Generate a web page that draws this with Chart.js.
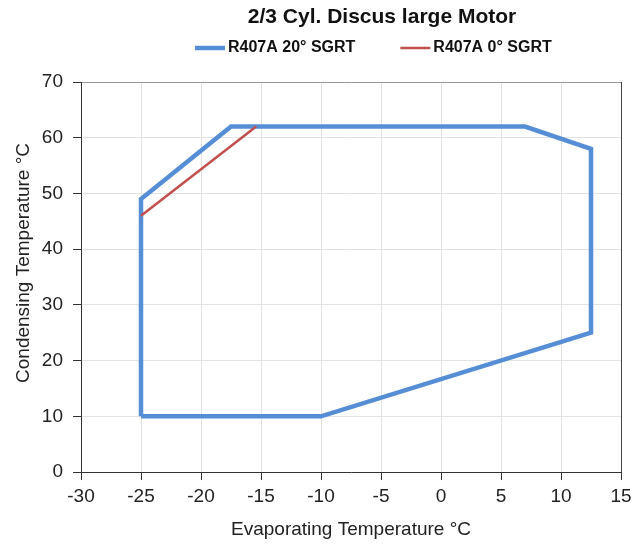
<!DOCTYPE html>
<html>
<head>
<meta charset="utf-8">
<script src="https://cdn.jsdelivr.net/npm/chart.js@4"></script>
<style>
  body { margin: 0; background: #fff; }
</style>
</head>
<body>
<canvas id="c" width="643" height="544"></canvas>
<script>
// envelope outline points (evaporating temp, condensing temp)
const blueX = [-25, -10, 12.5, 12.5, 7, -17.5, -25, -25];
const blueY = [10, 10, 25, 58, 62, 62, 49, 10];
// 0 deg SGRT only differs on the upper left edge
const redX = [-25, -15.4];
const redY = [46, 62];

const xTicks = [-30, -25, -20, -15, -10, -5, 0, 5, 10, 15];
const yTicks = [0, 10, 20, 30, 40, 50, 60, 70];

const chartTitle = '2/3 Cyl. Discus large Motor';
const seriesNames = ['R407A 20° SGRT', 'R407A 0° SGRT'];
const yAxisTitle = 'Condensing Temperature °C';

const toPts = (xs, ys) => xs.map((x, i) => ({ x: x, y: ys[i] }));

const FONT = "'Liberation Sans', Arial, sans-serif";
Chart.defaults.font.family = FONT;
Chart.defaults.color = '#222';

// title, legend and y title drawn by hand so the spacing matches the excel look
const headerPlugin = {
  id: 'header',
  afterDraw(chart) {
    const ctx = chart.ctx;
    ctx.save();
    ctx.textBaseline = 'middle';
    ctx.fillStyle = '#111';
    ctx.font = 'bold 21px ' + FONT;
    ctx.textAlign = 'center';
    ctx.fillText(chartTitle, 382, 17);

    ctx.font = 'bold 16px ' + FONT;
    ctx.textAlign = 'left';
    const lineW = 30, gap = 3, between = 45;
    let x = 195;
    chart.data.datasets.forEach((ds) => {
      ctx.strokeStyle = ds.borderColor;
      ctx.lineWidth = ds.borderWidth;
      ctx.beginPath();
      ctx.moveTo(x, 48);
      ctx.lineTo(x + lineW, 48);
      ctx.stroke();
      ctx.fillText(ds.label, x + lineW + gap, 48);
      x += lineW + gap + ctx.measureText(ds.label).width + between;
    });

    // rotated y axis title
    ctx.fillStyle = '#222';
    ctx.font = '19px ' + FONT;
    ctx.textAlign = 'center';
    ctx.translate(24, 263);
    ctx.rotate(-Math.PI / 2);
    ctx.fillText(yAxisTitle, 0, 0);
    ctx.restore();
  }
};

new Chart(document.getElementById('c'), {
  type: 'scatter',
  data: {
    datasets: [
      {
        label: seriesNames[0],
        data: toPts(blueX, blueY),
        showLine: true,
        borderColor: '#558ED5',
        backgroundColor: '#558ED5',
        borderWidth: 4.5,
        pointRadius: 0,
        order: 2
      },
      {
        label: seriesNames[1],
        data: toPts(redX, redY),
        showLine: true,
        borderColor: '#C0504D',
        backgroundColor: '#C0504D',
        borderWidth: 2.5,
        pointRadius: 0,
        order: 1
      }
    ]
  },
  options: {
    responsive: false,
    animation: false,
    layout: { padding: { left: 0, right: 22, top: 82, bottom: 0 } },
    plugins: {
      legend: { display: false },
      tooltip: { enabled: false }
    },
    scales: {
      x: {
        type: 'linear',
        min: -30,
        max: 15,
        afterBuildTicks: (axis) => { axis.ticks = xTicks.map(v => ({ value: v })); },
        afterFit: (axis) => { axis.height = 72; },
        ticks: { font: { size: 19 }, color: '#222', padding: 5 },
        grid: {
          color: (c) => (c.tick && c.tick.value === 15 ? '#444' : '#e3e3e3'),
          tickColor: '#333',
          tickLength: 8
        },
        border: { color: '#333', width: 1 },
        title: {
          display: true,
          text: 'Evaporating Temperature °C',
          font: { size: 19 },
          color: '#222',
          padding: { top: 0, bottom: 3 }
        }
      },
      y: {
        min: 0,
        max: 70,
        afterBuildTicks: (axis) => { axis.ticks = yTicks.map(v => ({ value: v })); },
        afterFit: (axis) => { axis.width = 81; },
        ticks: { font: { size: 19 }, color: '#222', padding: 10 },
        grid: {
          color: (c) => (c.tick && c.tick.value === 70 ? '#999' : '#e3e3e3'),
          tickColor: '#333',
          tickLength: 8
        },
        border: { color: '#333', width: 1 }
      }
    }
  },
  plugins: [headerPlugin]
});
</script>
</body>
</html>
